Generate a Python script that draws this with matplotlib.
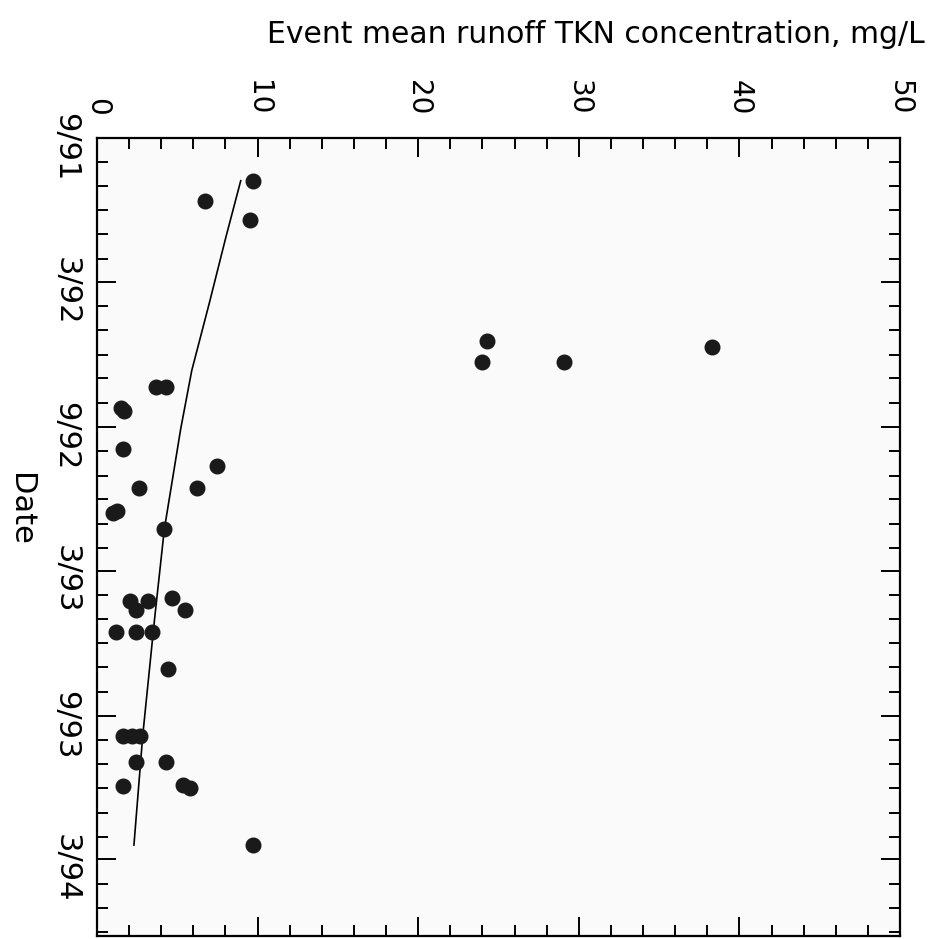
import numpy as np
import matplotlib
matplotlib.use("Agg")
import matplotlib.pyplot as plt
import matplotlib.dates as mdates
import matplotlib.transforms as mtransforms
from matplotlib.ticker import MultipleLocator, FuncFormatter

# Runoff events (date, event mean TKN concentration in mg/L)
event_dates = np.array([
    "1991-10-26", "1991-11-20", "1991-12-14",
    "1992-05-15", "1992-05-22", "1992-06-10", "1992-06-10",
    "1992-07-12", "1992-07-12", "1992-08-07", "1992-08-11",
    "1992-09-28", "1992-10-20", "1992-11-17", "1992-11-17",
    "1992-12-15", "1992-12-18", "1993-01-08",
    "1993-04-08", "1993-04-20", "1993-04-09", "1993-04-05", "1993-04-20",
    "1993-05-17", "1993-05-17", "1993-05-17", "1993-07-04",
    "1993-09-26", "1993-09-26", "1993-09-26",
    "1993-10-29", "1993-10-29", "1993-11-28", "1993-11-27", "1993-12-01",
    "1994-02-11",
], dtype="datetime64[D]")
tkn = [
    9.7, 6.7, 9.5,
    24.3, 38.3, 24.0, 29.1,
    3.7, 4.3, 1.5, 1.7,
    1.6, 7.5, 2.6, 6.2,
    1.25, 1.0, 4.2,
    2.05, 2.4, 3.2, 4.7, 5.5,
    1.2, 2.4, 3.4, 4.4,
    1.6, 2.2, 2.7,
    2.4, 4.3, 1.6, 5.35, 5.8,
    9.7,
]

# Fitted trend curve
trend_dates = np.array([
    "1991-10-25", "1992-01-04", "1992-03-28", "1992-06-21", "1992-09-03",
    "1993-01-08", "1993-05-04", "1993-09-25", "1994-02-11",
], dtype="datetime64[D]")
trend_tkn = [8.95, 8.03, 6.99, 5.90, 5.21, 4.19, 3.57, 2.85, 2.30]

fig = plt.figure(figsize=(9.41, 9.39), dpi=100)
ax = fig.add_axes([97 / 941, 1 - 936 / 939, 803 / 941, 798 / 939])
ax.set_facecolor("#fafafa")

ax.plot(trend_tkn, trend_dates, color="black", lw=1.2)
ax.plot(tkn, event_dates, "o", color="#1a1a1a", ms=10.5, mec="#1a1a1a")

ax.set_xlim(0, 50)
ax.set_ylim(np.datetime64("1994-06-06"), np.datetime64("1991-09-01"))

ax.xaxis.set_major_locator(MultipleLocator(10))
ax.xaxis.set_minor_locator(MultipleLocator(2))
ax.yaxis.set_major_locator(mdates.MonthLocator(bymonth=[3, 9]))
ax.yaxis.set_minor_locator(mdates.MonthLocator())
ax.yaxis.set_major_formatter(
    FuncFormatter(lambda v, p: "%d/%02d" % (mdates.num2date(v).month,
                                            mdates.num2date(v).year % 100)))

ax.tick_params(axis="x", which="both", direction="in", top=True, bottom=True,
               labeltop=True, labelbottom=False)
ax.tick_params(axis="y", which="both", direction="in", left=True, right=True)
ax.tick_params(which="major", length=14, width=1.4)
ax.tick_params(which="minor", length=8, width=1.4)
ax.tick_params(axis="x", which="major", pad=16, labelsize=20, labelrotation=270)
ax.tick_params(axis="y", which="major", pad=12, labelsize=22, labelrotation=270)

shift = mtransforms.ScaledTranslation(0, -0.09, fig.dpi_scale_trans)
for lab in ax.get_yticklabels():
    lab.set_va("center")
    lab.set_transform(lab.get_transform() + shift)

for s in ax.spines.values():
    s.set_linewidth(1.6)

fig.text(596 / 941, 1 - 43 / 939, "Event mean runoff TKN concentration, mg/L",
         ha="center", va="baseline", fontsize=21.5)
fig.text(20 / 941, 1 - 509 / 939, "Date", ha="center", va="center",
         rotation=270, fontsize=22)

fig.savefig("out.png", dpi=100)
